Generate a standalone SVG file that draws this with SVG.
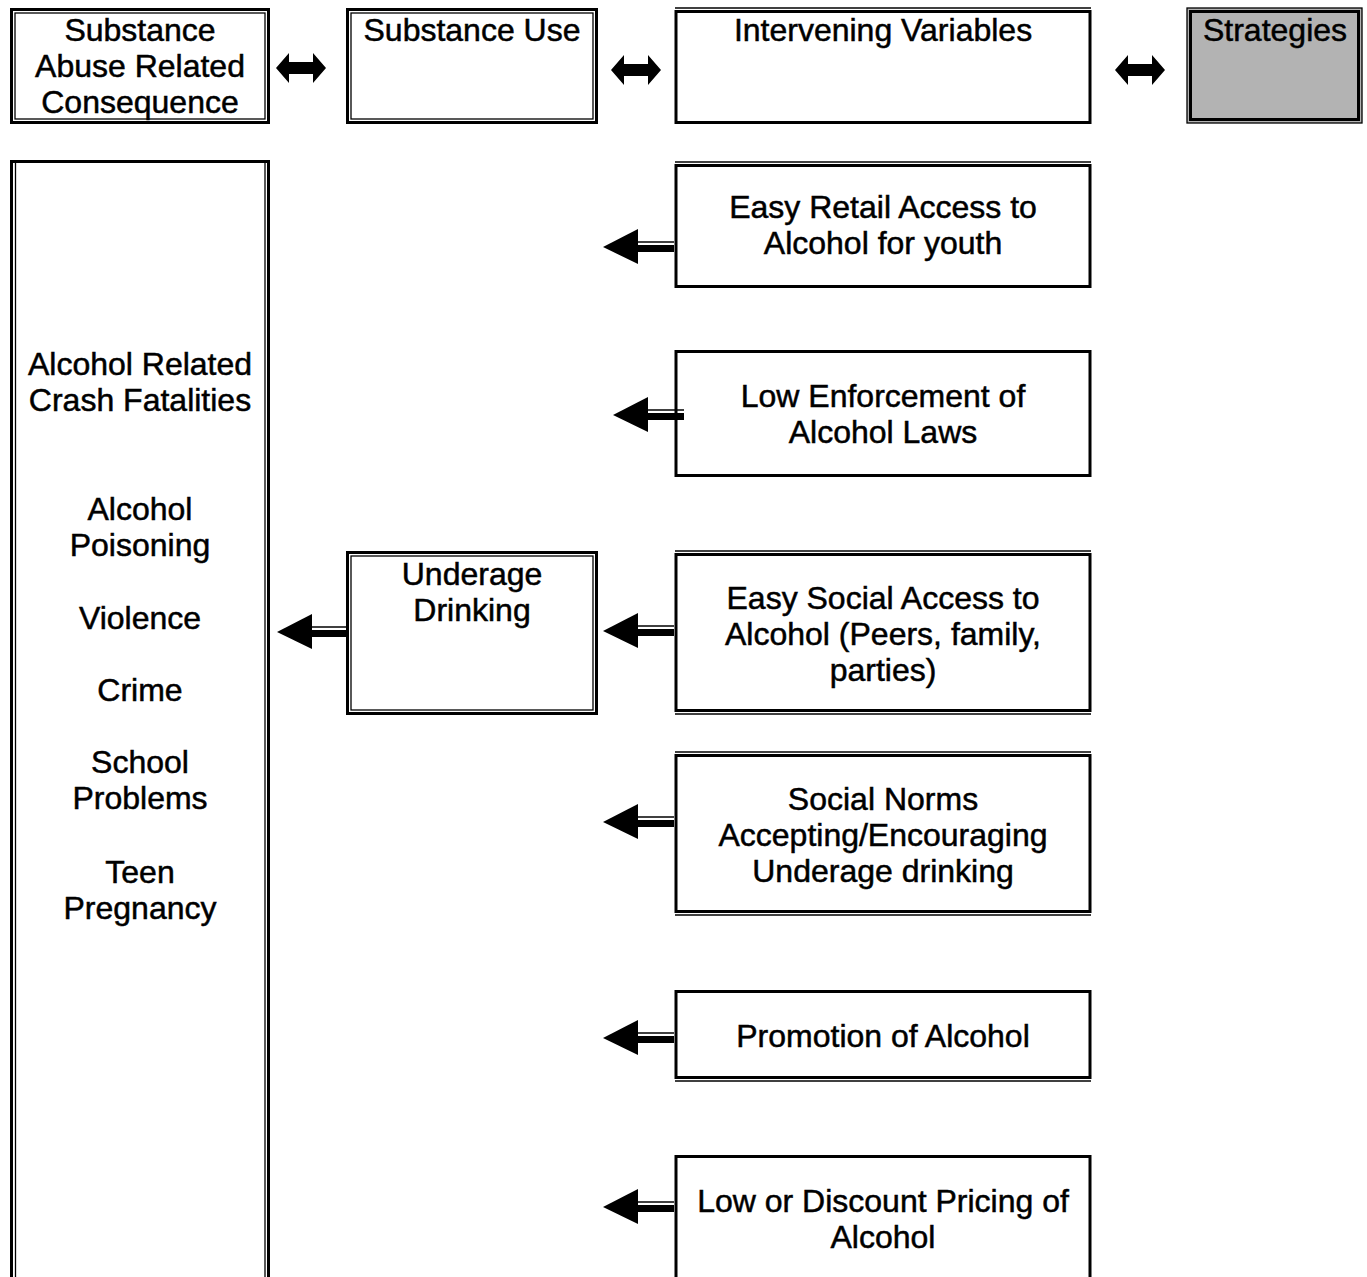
<svg xmlns="http://www.w3.org/2000/svg" width="1367" height="1277" viewBox="0 0 1367 1277">
<style>
  .box{fill:#fff;stroke:#000;stroke-width:3}
  .thin{fill:none;stroke:#000;stroke-width:1.3}
  .t{font-family:"Liberation Sans",Arial,sans-serif;font-size:32px;fill:#000;stroke:#000;stroke-width:0.5;text-anchor:middle}
</style>
<defs>
  <g id="larrow">
    <polygon points="0,0 35,-18 35,17" fill="#000"/>
    <rect x="34" y="-2" width="37" height="7" fill="#000"/>
    <line x1="34" y1="-5" x2="71" y2="-5" stroke="#000" stroke-width="1.5"/>
  </g>
  <path id="darrow" d="M-25,0 L-12,-15 L-12,-6 L12,-6 L12,-15 L25,0 L12,15 L12,6 L-12,6 L-12,15 Z" fill="#000"/>
</defs>
<rect width="1367" height="1277" fill="#fff"/>

<g id="consequence-header">
  <rect class="box" x="11.5" y="9.5" width="257" height="113"/>
  <rect class="thin" x="15" y="13" width="250" height="106"/>
  <text class="t" x="140" y="41">Substance</text>
  <text class="t" x="140" y="77">Abuse Related</text>
  <text class="t" x="140" y="113">Consequence</text>
</g>
<g id="substance-use-header">
  <rect class="box" x="347.5" y="9.5" width="249" height="113"/>
  <rect class="thin" x="351" y="13" width="242" height="106"/>
  <text class="t" x="472" y="41">Substance Use</text>
</g>
<g id="intervening-header">
  <rect class="box" x="676" y="11.5" width="414" height="111"/>
  <line class="thin" x1="675" y1="8" x2="1091" y2="8"/>
  <text class="t" x="883" y="41">Intervening Variables</text>
</g>
<g id="strategies-header">
  <rect x="1187" y="8" width="175" height="115" fill="#b3b3b3" stroke="#000" stroke-width="1.3"/>
  <rect x="1190.5" y="11.5" width="168" height="108" fill="none" stroke="#000" stroke-width="3"/>
  <text class="t" x="1275" y="41">Strategies</text>
</g>

<g id="consequences">
  <rect class="box" x="11.5" y="161.5" width="257" height="1140"/>
  <line class="thin" x1="15.5" y1="163" x2="15.5" y2="1277"/>
  <line class="thin" x1="265" y1="163" x2="265" y2="1277"/>
  <text class="t" x="140" y="375">Alcohol Related</text>
  <text class="t" x="140" y="411">Crash Fatalities</text>
  <text class="t" x="140" y="520">Alcohol</text>
  <text class="t" x="140" y="556">Poisoning</text>
  <text class="t" x="140" y="629">Violence</text>
  <text class="t" x="140" y="701">Crime</text>
  <text class="t" x="140" y="773">School</text>
  <text class="t" x="140" y="809">Problems</text>
  <text class="t" x="140" y="883">Teen</text>
  <text class="t" x="140" y="919">Pregnancy</text>
</g>

<g id="underage-drinking">
  <rect class="box" x="347.5" y="552.5" width="249" height="161"/>
  <rect class="thin" x="351" y="556" width="242" height="154"/>
  <text class="t" x="472" y="585">Underage</text>
  <text class="t" x="472" y="621">Drinking</text>
</g>

<g id="retail-access">
  <rect class="box" x="676" y="165.5" width="414" height="121"/>
  <line class="thin" x1="675" y1="162" x2="1091" y2="162"/>
  <text class="t" x="883" y="218">Easy Retail Access to</text>
  <text class="t" x="883" y="254">Alcohol for youth</text>
</g>
<g id="low-enforcement">
  <rect class="box" x="676" y="351.5" width="414" height="124"/>
  <text class="t" x="883" y="407">Low Enforcement of</text>
  <text class="t" x="883" y="443">Alcohol Laws</text>
</g>
<g id="social-access">
  <rect class="box" x="676" y="554.5" width="414" height="156"/>
  <line class="thin" x1="675" y1="551" x2="1091" y2="551"/>
  <line class="thin" x1="675" y1="714" x2="1091" y2="714"/>
  <text class="t" x="883" y="609">Easy Social Access to</text>
  <text class="t" x="883" y="645">Alcohol (Peers, family,</text>
  <text class="t" x="883" y="681">parties)</text>
</g>
<g id="social-norms">
  <rect class="box" x="676" y="755.5" width="414" height="156"/>
  <line class="thin" x1="675" y1="752" x2="1091" y2="752"/>
  <line class="thin" x1="675" y1="915" x2="1091" y2="915"/>
  <text class="t" x="883" y="810">Social Norms</text>
  <text class="t" x="883" y="846">Accepting/Encouraging</text>
  <text class="t" x="883" y="882">Underage drinking</text>
</g>
<g id="promotion">
  <rect class="box" x="676" y="991.5" width="414" height="86"/>
  <line class="thin" x1="675" y1="1081" x2="1091" y2="1081"/>
  <text class="t" x="883" y="1047">Promotion of Alcohol</text>
</g>
<g id="low-pricing">
  <rect class="box" x="676" y="1156.5" width="414" height="140"/>
  <text class="t" x="883" y="1212">Low or Discount Pricing of</text>
  <text class="t" x="883" y="1248">Alcohol</text>
</g>

<g id="connectors">
  <use href="#darrow" x="301" y="68"/>
  <use href="#darrow" x="636" y="70"/>
  <use href="#darrow" x="1140" y="70"/>
  <use href="#larrow" x="603" y="247"/>
  <use href="#larrow" x="613" y="415"/>
  <use href="#larrow" x="603" y="631"/>
  <use href="#larrow" x="603" y="822"/>
  <use href="#larrow" x="603" y="1038"/>
  <use href="#larrow" x="603" y="1207"/>
  <use href="#larrow" x="277" y="632"/>
</g>
</svg>
